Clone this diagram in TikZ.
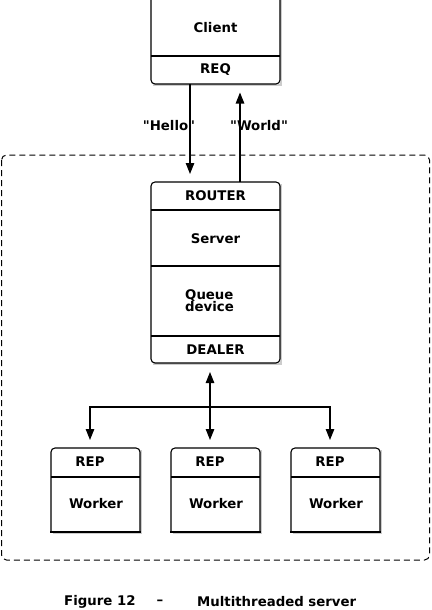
\documentclass[tikz,border=0pt]{standalone}
\usepackage{fontspec}
\setmainfont{DejaVu Sans}[Ligatures=TeXOff]
\usetikzlibrary{arrows.meta}
\tikzset{
  panel/.style={draw=none, fill=white, inner sep=0pt, outer sep=0pt},
  edge/.style={line width=1.1pt, line join=round},
  shade/.style={fill=black!20},
  lbl/.style={font=\fontsize{13.3}{15}\selectfont\bfseries, inner sep=0pt},
  arr/.style={line width=1.1pt, -{Triangle[length=11pt,width=8.5pt]}},
  arrboth/.style={line width=1.1pt, {Triangle[length=11pt,width=8.5pt]}-{Triangle[length=11pt,width=8.5pt]}},
  frame/.style={line width=1pt, dash pattern=on 6pt off 4pt, rounded corners=5pt}
}
\begin{document}
\begin{tikzpicture}[x=1pt,y=-1pt]
\useasboundingbox (0,0) rectangle (431,610);
% dashed frame
\draw[frame] (1.5,155) rectangle (429.5,560);
% shadows
\fill[shade] (153,-5) rectangle (282,86);
\fill[shade] (153,184) rectangle (282,365);
\fill[shade] (53,450) rectangle (142,534);
\fill[shade] (173,450) rectangle (262,534);
\fill[shade] (293,450) rectangle (382,534);
% panels
\node[panel, minimum width=129pt, minimum height=89pt] (client) at (215.5,39.5) {};
\node[panel, minimum width=129pt, minimum height=181pt] (server) at (215.5,272.5) {};
\node[panel, minimum width=89pt, minimum height=84pt] (w1) at (95.5,490) {};
\node[panel, minimum width=89pt, minimum height=84pt] (w2) at (215.5,490) {};
\node[panel, minimum width=89pt, minimum height=84pt] (w3) at (335.5,490) {};
% outlines
\draw[edge, rounded corners=4pt] (client.north west) rectangle (client.south east);
\draw[edge] (151,56) -- (280,56);
\draw[edge, rounded corners=4pt] (server.north west) rectangle (server.south east);
\draw[edge] (151,210) -- (280,210);
\draw[edge] (151,266) -- (280,266);
\draw[edge] (151,336) -- (280,336);
\foreach \w in {w1,w2,w3}{
  \draw[edge, rounded corners=4pt] (\w.south west) -- (\w.north west) -- (\w.north east) -- (\w.south east);
  \draw[edge, line cap=rect] (\w.south west) -- (\w.south east);
  \draw[edge] ([yshift=-29pt]\w.north west) -- ([yshift=-29pt]\w.north east);
}
% texts
\node[lbl] (tclient) at (215.5,28) {Client};
\node[lbl] (treq) at (215.5,70) {REQ};
\node[lbl] (trouter) at (215.5,196) {ROUTER};
\node[lbl] (tserver) at (215.5,239) {Server};
\node[lbl, align=left, anchor=west] (tqueue) at (185,301) {Queue\\[-3pt]device};
\node[lbl] (tdealer) at (215.5,350) {DEALER};
\node[lbl] (r1) at (90,462) {REP};
\node[lbl] (r2) at (210,462) {REP};
\node[lbl] (r3) at (330,462) {REP};
\node[lbl] (k1) at (96,504) {Worker};
\node[lbl] (k2) at (216,504) {Worker};
\node[lbl] (k3) at (336,504) {Worker};
\node[lbl] (hello) at (169,126) {"Hello"};
\node[lbl] (world) at (259,126) {"World"};
% connectors
\draw[arr] ([xshift=-25.5pt]client.south) -- ([xshift=-25.5pt,yshift=8pt]server.north);
\draw[arr] ([xshift=24.5pt]server.north) -- ([xshift=24.5pt,yshift=-8.5pt]client.south);
\coordinate (hub) at (210,407);
\draw[arrboth] ([xshift=-5.5pt,yshift=-9pt]server.south) -- ([xshift=-5.5pt,yshift=8pt]w2.north);
\draw[arr] (hub) -| ([xshift=-5.5pt,yshift=8pt]w1.north);
\draw[arr] (hub) -| ([xshift=-5.5pt,yshift=8pt]w3.north);
% caption
\node[lbl, anchor=west] (fig) at (64,602) {Figure 12};
\node[lbl] (dash) at (160,602) {–};
\node[lbl, anchor=west] (title) at (197,602) {Multithreaded server};
\end{tikzpicture}
\end{document}
